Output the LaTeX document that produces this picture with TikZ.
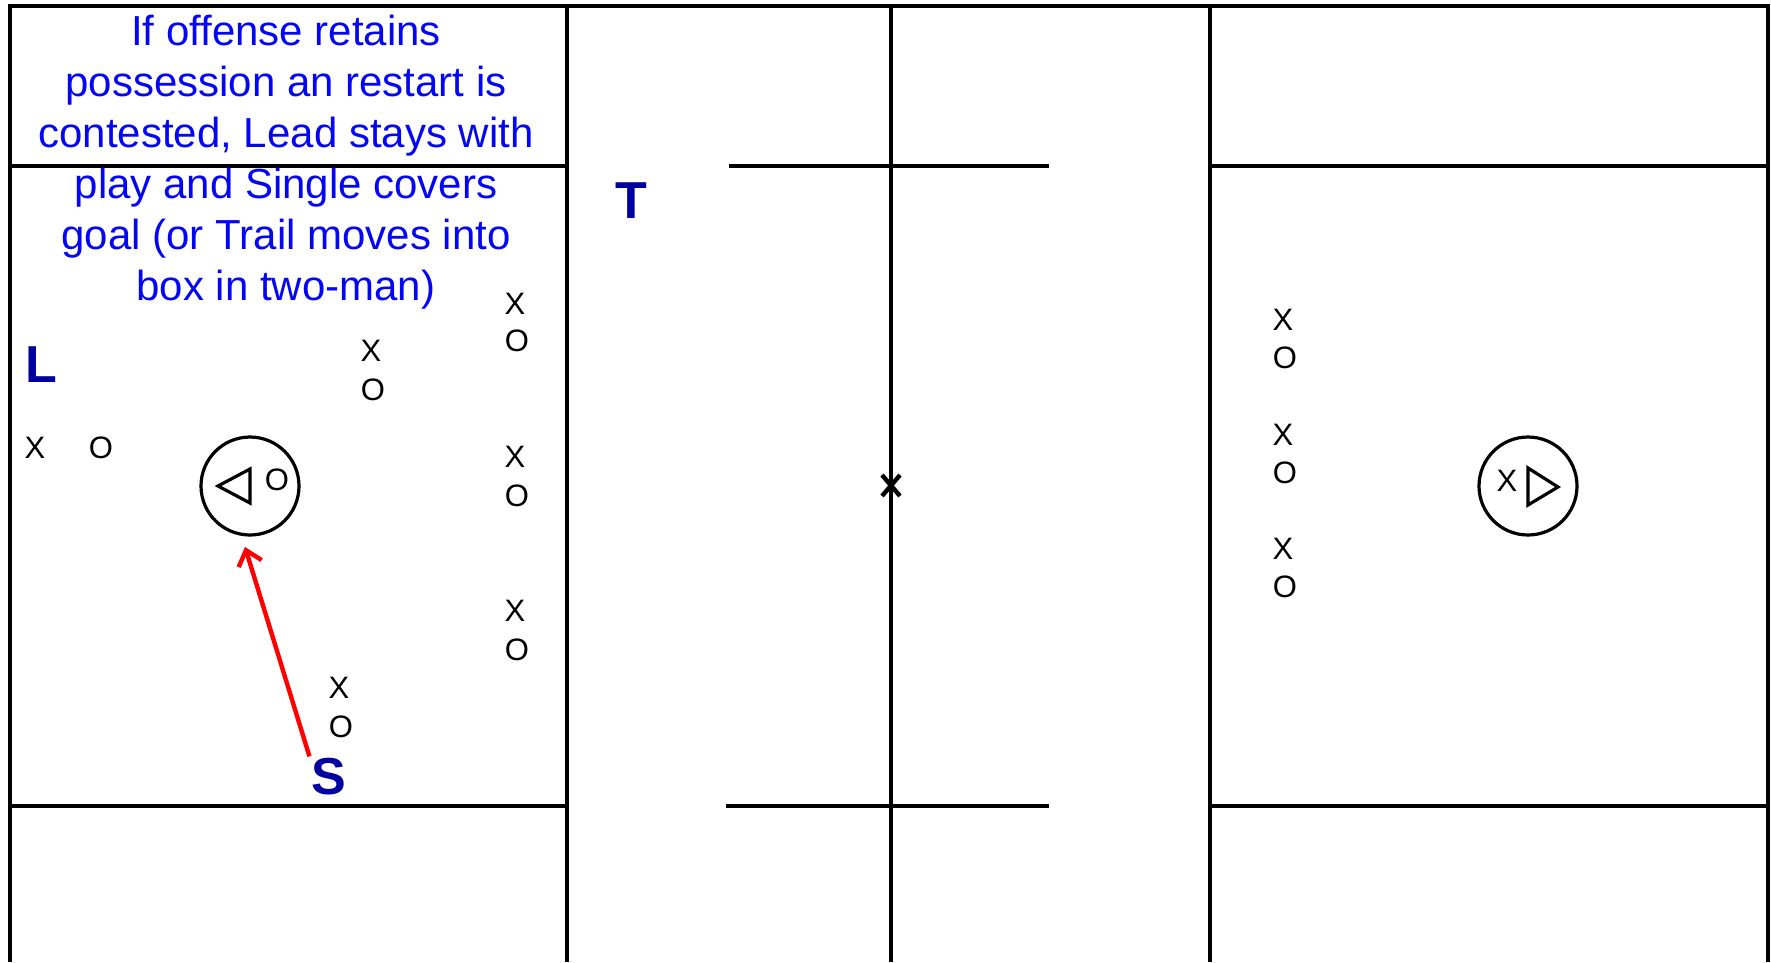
\documentclass[tikz,border=0pt]{standalone}
\usepackage{fontspec}
\setmainfont{Liberation Sans}
\usetikzlibrary{arrows.meta}
\definecolor{txtblue}{RGB}{5,5,245}
\definecolor{navy}{RGB}{0,0,160}
\definecolor{arrred}{RGB}{255,0,0}
\begin{document}
\begin{tikzpicture}[x=1pt,y=-1pt,
  field/.style={line width=3.6pt},
  goalring/.style={circle,draw,line width=3.2pt,minimum size=98pt,inner sep=0pt},
  crease/.style={line width=3.2pt,line join=miter},
  pl/.style={inner sep=0pt,font=\fontsize{31}{36}\selectfont},
  ref/.style={inner sep=2pt,text=navy,font=\fontsize{52}{60}\selectfont\bfseries},
  note/.style={inner sep=0pt,align=center,text=txtblue,font=\fontsize{42}{51}\selectfont},
  redarrow/.style={draw=arrred,line width=4.4pt,-{Straight Barb[length=14pt,width=24pt,line width=4.4pt]}}]
\useasboundingbox (0,0) rectangle (1771,962);
\fill[white] (0,0) rectangle (1771,962);
% field
\draw[field] (10,962) -- (10,6) -- (1768,6) -- (1768,962);
\draw[field] (567,6) -- (567,962);
\draw[field] (891,6) -- (891,962);
\draw[field] (1210,6) -- (1210,962);
\draw[field] (10,166) -- (567,166);
\draw[field] (1210,166) -- (1768,166);
\draw[field] (10,806) -- (567,806);
\draw[field] (1210,806) -- (1768,806);
\draw[field] (729,166) -- (1049,166);
\draw[field] (726,806) -- (1049,806);
% center X
\draw[line width=4.4pt] (882,475) -- (900,496) (882,496) -- (900,475);
% goals
\node[goalring] (lgoal) at (250,486) {};
\node[goalring] (rgoal) at (1528,486) {};
\draw[crease] (218,486) -- (250,469) -- (250,503) -- cycle;
\draw[crease] (1528,468) -- (1558,487) -- (1528,505) -- cycle;
% note
\node[note] (txt) at (286,162) {If offense retains\\possession an restart is\\contested, Lead stays with\\play and Single covers\\goal (or Trail moves into\\box in two-man)};
% players left
\node[pl] (x1) at (515,304) {X};
\node[pl] (o1) at (517,341) {O};
\node[pl] (x2) at (371,351) {X};
\node[pl] (o2) at (373,390) {O};
\node[pl] (x3) at (35,448) {X};
\node[pl] (o3) at (101,448) {O};
\node[pl] (x4) at (515,457) {X};
\node[pl] (o4) at (517,496) {O};
\node[pl] (x5) at (515,611) {X};
\node[pl] (o5) at (517,650) {O};
\node[pl] (x6) at (339,688) {X};
\node[pl] (o6) at (341,727) {O};
\node[pl] (og) at (277,480) {O};
% players right
\node[pl] (x7) at (1283,320) {X};
\node[pl] (o7) at (1285,358) {O};
\node[pl] (x8) at (1283,435) {X};
\node[pl] (o8) at (1285,473) {O};
\node[pl] (x9) at (1283,549) {X};
\node[pl] (o9) at (1285,587) {O};
\node[pl] (xg) at (1507,481) {X};
% officials
\node[ref] (L) at (41,365) {L};
\node[ref] (T) at (631,201) {T};
\node[ref] (S) at (329,777) {S};
\coordinate (atip) at (245,547);
\draw[redarrow] (S.north west) -- (atip);
\end{tikzpicture}
\end{document}
